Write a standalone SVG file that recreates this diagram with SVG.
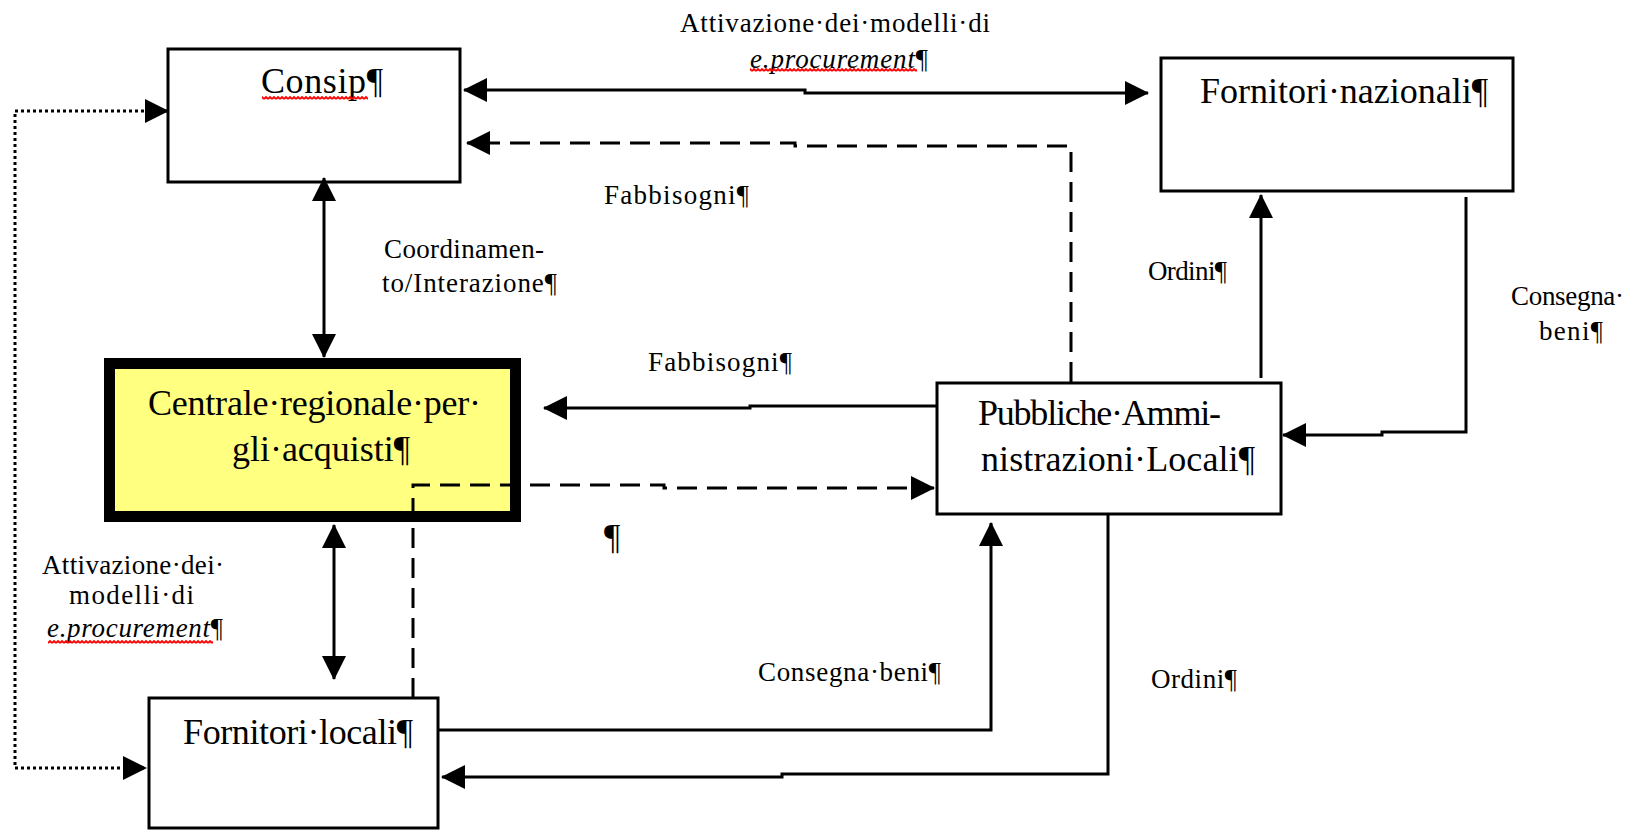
<svg xmlns="http://www.w3.org/2000/svg" width="1636" height="831" viewBox="0 0 1636 831">
<style>
.box{fill:#ffffff;stroke:#000;stroke-width:3}
.hbox{fill:#ffff80;stroke:#000;stroke-width:11}
.t{font-family:"Liberation Serif","Times New Roman",serif;fill:#000}
.big{font-size:36px}
.sm{font-size:27px}
.ln{fill:none;stroke:#000;stroke-width:3}
.dash{stroke-dasharray:20 10}
.dot{stroke-width:3;stroke-dasharray:3 3}
.wavy{fill:url(#wavy)}
</style>
<defs>
<marker id="ah" markerUnits="userSpaceOnUse" markerWidth="24" markerHeight="24" viewBox="0 0 24 24" refX="23" refY="12" orient="auto-start-reverse">
<path d="M0,0 L24,12 L0,24 z" fill="#000" stroke="none"/>
</marker>
<pattern id="wavy" width="4" height="4" patternUnits="userSpaceOnUse">
<path d="M0,3 L2,1 L4,3" fill="none" stroke="#ff0000" stroke-width="1.8"/>
</pattern>
</defs>
<rect width="1636" height="831" fill="#ffffff"/>

<g id="consip">
<rect class="box" x="168" y="49" width="292" height="133"/>
<text class="t big" x="261" y="93" textLength="122">Consip¶</text>
<rect class="wavy" x="262" y="96" width="106" height="4"/>
</g>

<g id="fornitori-nazionali">
<rect class="box" x="1161" y="58" width="352" height="133"/>
<text class="t big" x="1200" y="103" textLength="288">Fornitori·nazionali¶</text>
</g>

<g id="centrale">
<rect class="hbox" x="109.5" y="363.5" width="406" height="153"/>
<text class="t big" x="148" y="415" textLength="333">Centrale·regionale·per·</text>
<text class="t big" x="232" y="461" textLength="178">gli·acquisti¶</text>
</g>

<g id="pa">
<rect class="box" x="937" y="383" width="344" height="131"/>
<text class="t big" x="978" y="425" textLength="243">Pubbliche·Ammi-</text>
<text class="t big" x="981" y="471" textLength="274">nistrazioni·Locali¶</text>
</g>

<g id="fornitori-locali">
<rect class="box" x="149" y="698" width="289" height="130"/>
<text class="t big" x="183" y="744" textLength="230">Fornitori·locali¶</text>
</g>

<g id="connectors">
<path class="ln" d="M464,90 H805 V93 H1148" marker-start="url(#ah)" marker-end="url(#ah)"/>
<path class="ln dash" d="M1071,382 V146 H795 V143 H467" marker-end="url(#ah)"/>
<path class="ln" d="M324,178 V357" marker-start="url(#ah)" marker-end="url(#ah)"/>
<path class="ln" d="M937,406 H750 V408 H544" marker-end="url(#ah)"/>
<path class="ln" d="M1261,378 V195" marker-end="url(#ah)"/>
<path class="ln" d="M1466,197 V432 H1382 V435 H1283" marker-end="url(#ah)"/>
<path class="ln dash" d="M413,698 V485 H664 V488 H934" marker-end="url(#ah)"/>
<path class="ln" d="M334,525 V679" marker-start="url(#ah)" marker-end="url(#ah)"/>
<path class="ln" d="M438,730 H991 V523" marker-end="url(#ah)"/>
<path class="ln" d="M1108,514 V774 H782 V777 H442" marker-end="url(#ah)"/>
<path class="ln dot" d="M168,111 H15 V768 H146" marker-start="url(#ah)" marker-end="url(#ah)"/>
</g>

<g id="labels">
<text class="t sm" x="680" y="32" textLength="310">Attivazione·dei·modelli·di</text>
<text class="t sm" x="750" y="68" textLength="178"><tspan font-style="italic">e.procurement</tspan>¶</text>
<rect class="wavy" x="750" y="68" width="167" height="4"/>
<text class="t sm" x="604" y="204" textLength="145">Fabbisogni¶</text>
<text class="t sm" x="384" y="258" textLength="160">Coordinamen-</text>
<text class="t sm" x="382" y="292" textLength="175">to/Interazione¶</text>
<text class="t sm" x="648" y="371" textLength="144">Fabbisogni¶</text>
<text class="t sm" x="1148" y="280" textLength="79">Ordini¶</text>
<text class="t sm" x="1511" y="305" textLength="113">Consegna·</text>
<text class="t sm" x="1539" y="340" textLength="64">beni¶</text>
<text class="t big" x="604" y="549">¶</text>
<text class="t sm" x="42" y="574" textLength="182">Attivazione·dei·</text>
<text class="t sm" x="69" y="604" textLength="125">modelli·di</text>
<text class="t sm" x="47" y="637" textLength="176"><tspan font-style="italic">e.procurement</tspan>¶</text>
<rect class="wavy" x="48" y="640" width="165" height="4"/>
<text class="t sm" x="758" y="681" textLength="183">Consegna·beni¶</text>
<text class="t sm" x="1151" y="688" textLength="86">Ordini¶</text>
</g>
</svg>
